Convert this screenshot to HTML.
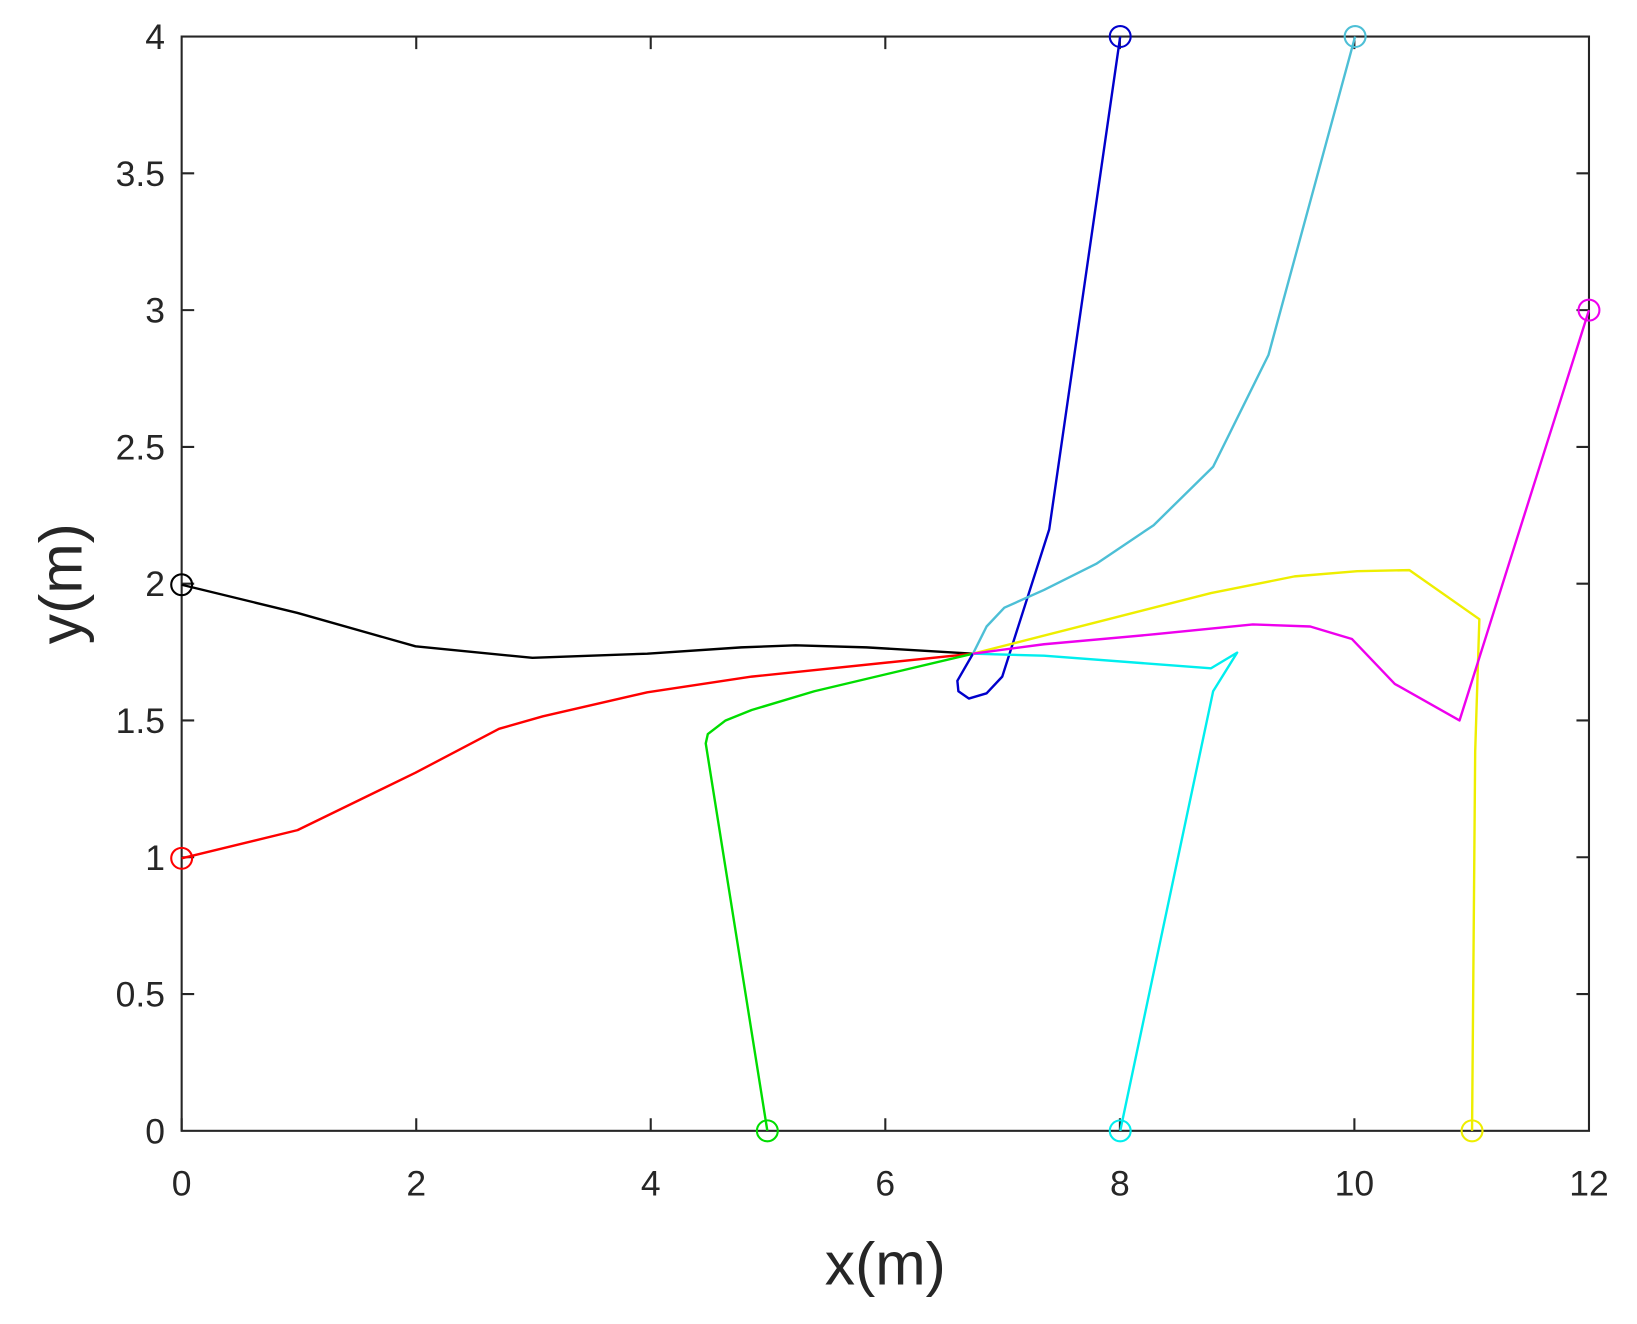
<!DOCTYPE html>
<html><head><style>html,body{margin:0;padding:0;background:#fff}svg{display:block}</style></head>
<body>
<svg width="1637" height="1324" viewBox="0 0 1568 1268" preserveAspectRatio="none" xmlns="http://www.w3.org/2000/svg" font-family="Liberation Sans, Arial, sans-serif">
<rect x="0" y="0" width="1568" height="1268" fill="#fff"/>
<g stroke="#262626" stroke-width="2" fill="none">
<rect x="174" y="35" width="1348" height="1048"/>
<path d="M174,1083v-12M398.7,1083v-12M623.3,1083v-12M848,1083v-12M1072.7,1083v-12M1297.3,1083v-12
M398.7,35v12M623.3,35v12M848,35v12M1072.7,35v12M1297.3,35v12
M174,952h12M174,821h12M174,690h12M174,559h12M174,428h12M174,297h12M174,166h12
M1522,952h-12M1522,821h-12M1522,690h-12M1522,559h-12M1522,428h-12M1522,297h-12M1522,166h-12"/>
</g>
<g font-size="34" fill="#262626" text-anchor="middle">
<text x="174" y="1145">0</text><text x="398.7" y="1145">2</text><text x="623.3" y="1145">4</text><text x="848" y="1145">6</text><text x="1072.7" y="1145">8</text><text x="1297.3" y="1145">10</text><text x="1522" y="1145">12</text>
</g>
<g font-size="34" fill="#262626" text-anchor="end">
<text x="158" y="1095">0</text><text x="158" y="964">0.5</text><text x="158" y="833">1</text><text x="158" y="702">1.5</text><text x="158" y="571">2</text><text x="158" y="440">2.5</text><text x="158" y="309">3</text><text x="158" y="178">3.5</text><text x="158" y="47">4</text>
</g>
<text x="848" y="1230" font-size="58" text-anchor="middle" fill="#262626">x(m)</text>
<text transform="translate(78,559) rotate(-90)" font-size="58" text-anchor="middle" fill="#262626">y(m)</text>
<g fill="none" stroke-width="2.3" stroke-linejoin="round">
<polyline stroke="#000" points="174,560 285,587 398,619 510,630 620,626 710,620 762,618 830,620 932,626"/>
<polyline stroke="#f00" points="174,822 285,795 398,740 478,698 520,686 620,663 720,648 932,626"/>
<polyline stroke="#0d0" points="735,1083 676,712 678,703 695,690 720,680 780,662 932,626"/>
<polyline stroke="#00c" points="1073,35 1005,507 960,648 945,664 928,669 918,662 917,652 932,626"/>
<polyline stroke="#4dbfd6" points="1298,35 1215,340 1162,447 1105,503 1050,540 1000,565 962,582 945,600 932,626"/>
<polyline stroke="#0ee" points="1073,1083 1162,662 1185,625 1160,640 1000,628 932,626"/>
<polyline stroke="#ee0" points="1410,1083 1413,720 1417,593 1350,546 1300,547 1240,552 1160,568 1050,596 932,626"/>
<polyline stroke="#e0e" points="1522,297 1398,690 1336,655 1295,612 1255,600 1200,598 1100,608 1000,617 932,626"/>
</g>
<g fill="none" stroke-width="2">
<circle cx="174" cy="560" r="10" stroke="#000"/>
<circle cx="174" cy="822" r="10" stroke="#f00"/>
<circle cx="735" cy="1083" r="10" stroke="#0d0"/>
<circle cx="1073" cy="1083" r="10" stroke="#0ee"/>
<circle cx="1410" cy="1083" r="10" stroke="#ee0"/>
<circle cx="1073" cy="35" r="10" stroke="#00c"/>
<circle cx="1298" cy="35" r="10" stroke="#4dbfd6"/>
<circle cx="1522" cy="297" r="10" stroke="#e0e"/>
</g>
</svg>
</body></html>
